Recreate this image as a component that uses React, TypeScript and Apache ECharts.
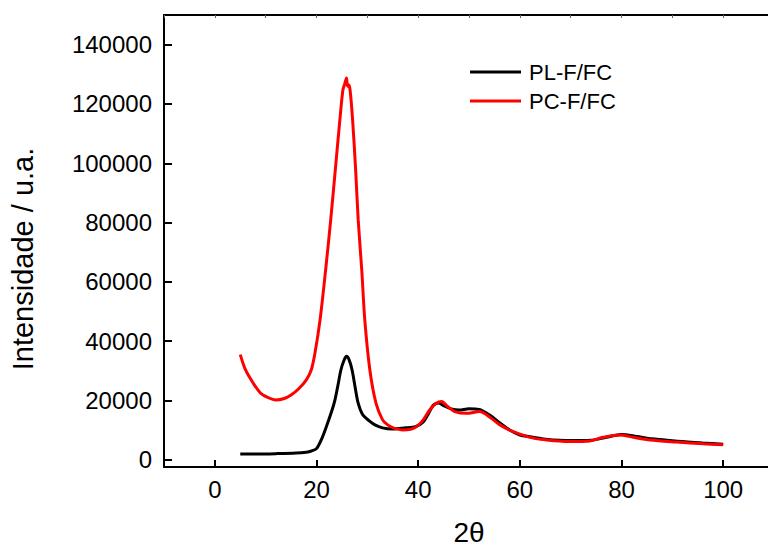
import React, { useEffect, useRef } from "react";
import * as echarts from "echarts";

const xTickValues = [0, 20, 40, 60, 80, 100];
const yTickValues = [0, 20000, 40000, 60000, 80000, 100000, 120000, 140000];

const plName = "PL-F/FC";
const plX = [5, 8, 12, 16, 18, 19, 20, 21, 22, 23, 23.6, 24.2, 24.8, 25.4, 25.9, 26.4, 27, 27.6, 28.2, 29, 30.2, 31.5, 33, 35, 37.5, 39.5, 41, 42, 43, 44, 45, 46.5, 48, 50, 52, 54, 56, 58, 60, 62, 65, 70, 74, 77, 80, 83, 86, 91, 96, 100];
const plY = [2000, 2000, 2100, 2300, 2600, 3000, 3800, 7000, 11500, 16500, 20000, 25000, 30300, 33500, 34900, 33800, 30300, 24500, 19100, 15500, 13400, 11800, 10800, 10400, 10800, 11200, 12800, 15500, 18500, 19200, 18300, 17200, 16800, 17200, 17000, 15200, 12500, 10100, 8400, 7800, 7000, 6500, 6600, 7600, 8600, 7900, 7100, 6300, 5700, 5300];

const pcName = "PC-F/FC";
const pcX = [5, 6, 7.5, 9, 10.5, 12, 13.5, 15, 16.5, 18, 19, 19.7, 20.7, 21.8, 22.8, 23.7, 24.6, 25.2, 25.6, 25.9, 26.1, 26.3, 26.6, 27.1, 27.7, 28.2, 28.9, 29.5, 30.5, 31.7, 33, 34, 35.1, 37, 38.5, 39.7, 41, 42.3, 43.5, 44.6, 45.8, 47.2, 49.5, 52.1, 54.1, 56.1, 58.7, 62, 65.3, 69.8, 73.8, 76.4, 79.7, 82.3, 85.6, 90.8, 96.1, 100];
const pcY = [35500, 30500, 26000, 22500, 21000, 20200, 20600, 21900, 24000, 27000, 30500, 36000, 47200, 64100, 81000, 97800, 114700, 124800, 127000, 128800, 126000, 126500, 124800, 114700, 97800, 81000, 64100, 47200, 30300, 19100, 13500, 11800, 10800, 10100, 10300, 11200, 13500, 16900, 19000, 19700, 18000, 16300, 15700, 16300, 14400, 11800, 9500, 7600, 6700, 6200, 6400, 7600, 8400, 7600, 6700, 6000, 5400, 5100];

const FONT = "'Liberation Sans', Arial, sans-serif";

export default function App() {
  const ref = useRef<HTMLDivElement>(null);
  useEffect(() => {
    if (!ref.current) return;
    const chart = echarts.init(ref.current, null, { renderer: "svg" });
    const plData = plX.map((x, i) => [x, plY[i]]);
    const pcData = pcX.map((x, i) => [x, pcY[i]]);
    chart.setOption({
      animation: false,
      backgroundColor: "#ffffff",
      grid: { left: 164, right: -6, top: 15, bottom: 82, containLabel: false, outerBoundsMode: "none" },
      legend: {
        left: 465,
        top: 55,
        orient: "vertical",
        itemWidth: 51,
        itemHeight: 3,
        itemGap: 5,
        icon: "rect",
        textStyle: { fontFamily: FONT, fontSize: 22, color: "#000", lineHeight: 24, padding: [0, 0, 0, 3] },
        data: [plName, pcName],
      },
      xAxis: [
        {
          type: "value",
          position: "bottom",
          min: -10,
          max: 110,
          splitLine: { show: false },
          axisLine: { onZero: false, lineStyle: { color: "#000", width: 2 } },
          axisTick: { inside: true, length: 7, lineStyle: { color: "#000", width: 2 }, customValues: xTickValues },
          axisLabel: { customValues: xTickValues, fontFamily: FONT, fontSize: 24, color: "#000", margin: 10, formatter: (v: number) => String(v) },
          name: "2θ",
          nameLocation: "middle",
          nameGap: 51,
          nameTextStyle: { fontFamily: FONT, fontSize: 28, color: "#000" },
        },
        {
          type: "value",
          position: "top",
          min: -10,
          max: 110,
          interval: 10,
          splitLine: { show: false },
          axisLine: { onZero: false, lineStyle: { color: "#000", width: 2 } },
          axisTick: { inside: true, length: 3, lineStyle: { color: "#666", width: 1 } },
          axisLabel: { show: false },
        },
      ],
      yAxis: {
        type: "value",
        min: -2400,
        max: 150000,
        splitLine: { show: false },
        axisLine: { show: true, onZero: false, lineStyle: { color: "#000", width: 2 } },
        axisTick: { show: true, inside: true, length: 8, lineStyle: { color: "#000", width: 2 }, customValues: yTickValues },
        axisLabel: { customValues: yTickValues, fontFamily: FONT, fontSize: 24, color: "#000", margin: 12, formatter: (v: number) => String(v) },
      },
      graphic: [
        {
          type: "text",
          x: 23,
          y: 259,
          rotation: Math.PI / 2,
          style: {
            text: "Intensidade / u.a.",
            fontFamily: FONT,
            fontSize: 29,
            fill: "#000",
            align: "center",
            verticalAlign: "middle",
          },
        },
      ],
      series: [
        {
          name: plName,
          type: "line",
          xAxisIndex: 0,
          data: plData,
          showSymbol: false,
          symbol: "none",
          smooth: 0.3,
          lineStyle: { color: "#000000", width: 3 },
          itemStyle: { color: "#000000" },
        },
        {
          name: pcName,
          type: "line",
          xAxisIndex: 0,
          data: pcData,
          showSymbol: false,
          symbol: "none",
          smooth: 0.3,
          lineStyle: { color: "#ff0000", width: 3 },
          itemStyle: { color: "#ff0000" },
        },
      ],
    });
    return () => chart.dispose();
  }, []);
  return (
    <div
      ref={ref}
      style={{ position: "absolute", left: 0, top: 0, width: 768, height: 549 }}
    />
  );
}
